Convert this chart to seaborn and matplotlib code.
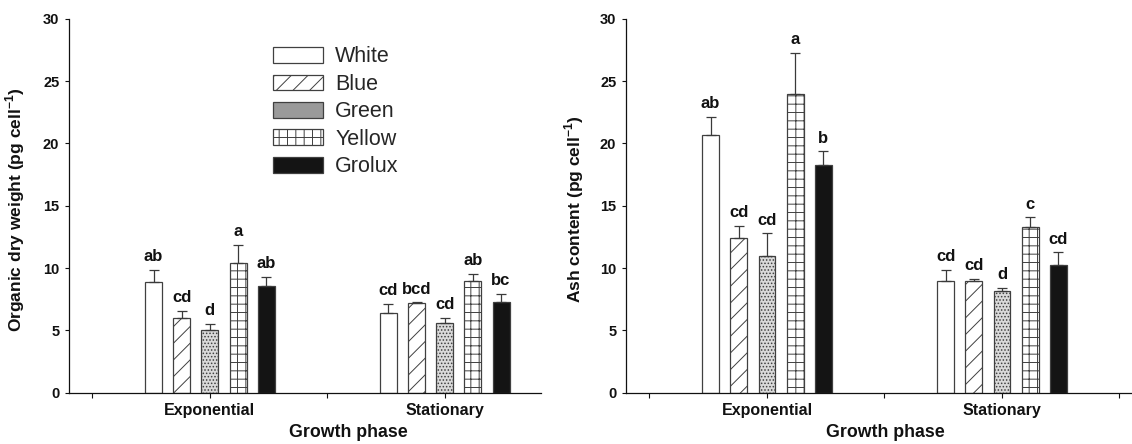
import numpy as np
import pandas as pd
import matplotlib
matplotlib.use('Agg')
import matplotlib.pyplot as plt
from matplotlib.patches import Patch
import seaborn as sns

# categories
phases = ['Exponential', 'Stationary']
lights = ['White', 'Blue', 'Green', 'Yellow', 'Grolux']

# organic dry weight (pg cell-1): one row per light, one column per phase
organic_mean = [[8.85, 6.41], [5.98, 7.16], [5.04, 5.58], [10.40, 8.93], [8.53, 7.27]]
organic_err = [[1.02, 0.70], [0.59, 0.08], [0.48, 0.40], [1.45, 0.59], [0.78, 0.67]]
organic_letters = [['ab', 'cd'], ['cd', 'bcd'], ['d', 'cd'], ['a', 'ab'], ['ab', 'bc']]

# ash content (pg cell-1)
ash_mean = [[20.72, 8.95], [12.43, 8.95], [10.99, 8.15], [24.00, 13.33], [18.28, 10.26]]
ash_err = [[1.41, 0.89], [0.94, 0.19], [1.79, 0.24], [3.29, 0.75], [1.10, 1.01]]
ash_letters = [['ab', 'cd'], ['cd', 'cd'], ['cd', 'd'], ['a', 'c'], ['b', 'cd']]

# bar looks
face = {'White': '#ffffff', 'Blue': '#ffffff', 'Green': '#dadada',
        'Yellow': '#ffffff', 'Grolux': '#141414'}
legend_face = {'White': '#ffffff', 'Blue': '#ffffff', 'Green': '#9a9a9a',
               'Yellow': '#ffffff', 'Grolux': '#141414'}
hatch = {'White': '', 'Blue': '//', 'Green': '.....', 'Yellow': '++', 'Grolux': ''}
edge = '#404040'

sns.set_theme(style='ticks')
plt.rcParams['font.family'] = ['Liberation Sans', 'DejaVu Sans']
plt.rcParams['mathtext.fontset'] = 'custom'
plt.rcParams['mathtext.rm'] = 'Liberation Sans'
plt.rcParams['mathtext.bf'] = 'Liberation Sans:bold'
plt.rcParams['hatch.linewidth'] = 0.7


def draw_panel(ax, means, errs, letters, ylabel, xlim, ylab_x, xlab_x):
    df = pd.DataFrame({
        'phase': phases * len(lights),
        'light': np.repeat(lights, len(phases)),
        'value': np.ravel(means),
    })
    sns.barplot(data=df, x='phase', y='value', hue='light', order=phases,
                hue_order=lights, palette=face, saturation=1, width=0.6,
                gap=0.4, errorbar=None, edgecolor=edge, linewidth=0.9,
                legend=False, ax=ax)

    bar_containers = list(ax.containers)
    for i, light in enumerate(lights):
        xs, tops = [], []
        for bar in bar_containers[i]:
            bar.set_hatch(hatch[light])
            xs.append(bar.get_x() + bar.get_width() / 2)
            tops.append(bar.get_height())
        up = errs[i]
        ax.errorbar(xs, tops, yerr=[np.zeros(len(up)), up], fmt='none',
                    ecolor='#3a3a3a', elinewidth=0.9, capsize=3.8,
                    capthick=0.9, zorder=3)
        for x, t, e, lab in zip(xs, tops, up, letters[i]):
            ax.annotate(lab, (x, t + e), xytext=(0, 4), textcoords='offset points',
                        ha='center', va='bottom', fontsize=12, fontweight='bold',
                        color='#111111')

    ax.set_ylim(0, 30)
    ax.set_yticks(range(0, 31, 5))
    ax.set_xticks([-0.5, 0, 0.5, 1, 1.5])
    ax.set_xticklabels(['', 'Exponential', '', 'Stationary', ''])
    ax.set_xlim(*xlim)
    for lab in ax.get_yticklabels():
        lab.set_fontweight('bold')
        lab.set_fontsize(10.5)
    for lab in ax.get_xticklabels():
        lab.set_fontweight('bold')
        lab.set_fontsize(11.5)
    ax.tick_params(axis='y', length=3, width=0.8, pad=4, colors='#111111')
    ax.tick_params(axis='x', length=3.6, width=0.8, pad=4, colors='#111111')
    sns.despine(ax=ax)
    for s in ['left', 'bottom']:
        ax.spines[s].set_color('#111111')
        ax.spines[s].set_linewidth(0.9)
    ax.set_ylabel(ylabel, fontsize=12.5, fontweight='bold', color='#111111')
    ax.set_xlabel('Growth phase', fontsize=12.8, fontweight='bold',
                  color='#111111', va='top')
    ax.yaxis.set_label_coords(ylab_x, 0.49)
    ax.xaxis.set_label_coords(xlab_x, -0.085)


fig = plt.figure(figsize=(11.32, 4.44), dpi=100)
ax1 = fig.add_axes([69 / 1132, 1 - 392.5 / 444, 472 / 1132, 373.5 / 444])
ax2 = fig.add_axes([626 / 1132, 1 - 392.5 / 444, 505 / 1132, 373.5 / 444])

draw_panel(ax1, organic_mean, organic_err, organic_letters,
           r'Organic dry weight (pg cell$^{\mathbf{-1}}$)',
           (-0.6, 1.41), -0.088, 0.591)
draw_panel(ax2, ash_mean, ash_err, ash_letters,
           r'Ash content (pg cell$^{\mathbf{-1}}$)',
           (-0.6, 1.549), -0.08, 0.514)

handles = [Patch(facecolor=legend_face[l], edgecolor=edge, hatch=hatch[l] if l != 'Green' else '',
                 linewidth=0.9, label=l) for l in lights]
ax1.legend(handles=handles, loc='upper left', bbox_to_anchor=(273 / 1132, 1 - 46.5 / 444),
           bbox_transform=fig.transFigure, frameon=False, fontsize=15.5,
           handlelength=2.33, handleheight=0.75, handletextpad=0.56,
           labelspacing=0.30, borderpad=0, borderaxespad=0)

fig.savefig('out.png', dpi=100)
